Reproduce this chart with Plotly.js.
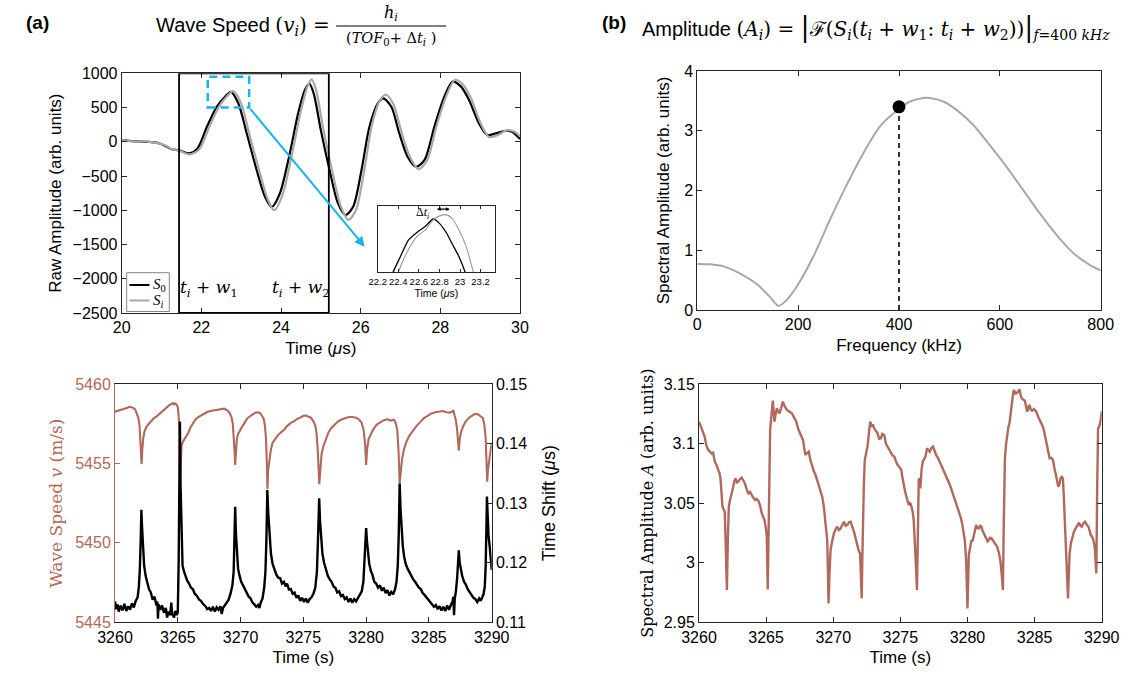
<!DOCTYPE html>
<html><head><meta charset="utf-8">
<script src="https://cdn.plot.ly/plotly-3.0.1.min.js"></script>
<style>html,body{margin:0;padding:0;background:#fff}#chart{width:1135px;height:674px}</style>
</head><body><div id="chart"></div>
<script>
// ---------- (a) top: raw waveforms ----------
const rawTimeS0 = [20.0,20.3,20.6,20.9,21.1,21.25,21.45,21.7,21.9,22.14,22.39,22.6,22.74,22.93,23.14,23.39,23.6,23.77,23.97,24.22,24.43,24.6,24.71,24.82,25.0,25.22,25.43,25.62,25.81,26.02,26.22,26.43,26.57,26.77,26.97,27.18,27.39,27.6,27.85,28.1,28.31,28.52,28.72,28.97,29.18,29.39,29.64,29.8,30.0];
const rawAmpS0  = [25,10,0,-15,-60,-110,-125,-170,-100,220,512,660,730,560,120,-415,-805,-950,-755,-170,415,756,850,707,170,-415,-900,-1070,-950,-415,220,560,634,512,122,-220,-365,-268,220,660,878,805,610,268,98,122,161,146,40];
const rawTimeSi = [20.0,20.3,20.6,20.9,21.1,21.25,21.45,21.7,21.95,22.2,22.45,22.65,22.8,23.0,23.2,23.45,23.66,23.83,24.03,24.28,24.49,24.66,24.77,24.88,25.06,25.28,25.5,25.69,25.88,26.09,26.28,26.48,26.63,26.82,27.02,27.22,27.45,27.66,27.9,28.15,28.37,28.58,28.78,29.02,29.22,29.43,29.68,29.85,30.0];
const rawAmpSi  = [30,5,5,-20,-55,-105,-130,-185,-110,220,520,670,740,560,120,-415,-830,-1000,-790,-170,430,800,910,760,190,-415,-940,-1140,-1000,-415,240,600,690,550,150,-200,-400,-280,220,670,905,830,620,260,70,95,170,150,80];
// inset (zoom of first peak)
const insetTimeS0 = [22.32,22.35,22.42,22.5,22.59,22.66,22.74,22.8,22.87,22.93,22.99,23.05,23.08];
const insetAmpS0  = [450,500,568,641,677,699,732,713,670,619,568,500,450];
const insetTimeSi = [22.37,22.40,22.48,22.58,22.66,22.74,22.82,22.88,22.93,22.99,23.06,23.13,23.16];
const insetAmpSi  = [450,500,583,655,684,728,749,749,731,684,612,500,450];

// ---------- (b) top: spectrum ----------
const freqKHz = [0,25,52,85,118,144,161,174,197,230,263,296,329,362,402,422,448,461,488,514,547,580,613,646,679,712,746,779,800];
const specAmp = [0.77,0.765,0.73,0.61,0.435,0.22,0.07,0.14,0.39,0.89,1.51,2.09,2.62,3.07,3.38,3.49,3.55,3.55,3.49,3.35,3.10,2.76,2.40,2.01,1.62,1.26,0.95,0.75,0.66];
const markFreq = [400];
const markAmp = [3.4];

// ---------- (a) bottom: wave speed & time shift ----------
const tSpeed = [3260.0,3260.2,3260.4,3260.6,3260.8,3261.0,3261.15,3261.3,3261.45,3261.6,3261.75,3261.85,3261.95,3262.02,3262.08,3262.12,3262.17,3262.25,3262.35,3262.5,3262.7,3262.9,3263.1,3263.3,3263.5,3263.7,3263.9,3264.1,3264.3,3264.5,3264.6,3264.7,3264.8,3264.9,3265.0,3265.07,3265.12,3265.17,3265.22,3265.3,3265.4,3265.55,3265.7,3265.85,3266.0,3266.2,3266.4,3266.6,3266.8,3267.0,3267.3,3267.6,3267.9,3268.2,3268.5,3268.7,3268.85,3269.0,3269.15,3269.28,3269.38,3269.46,3269.52,3269.57,3269.63,3269.7,3269.8,3269.95,3270.15,3270.35,3270.55,3270.8,3271.0,3271.2,3271.4,3271.55,3271.7,3271.85,3271.95,3272.03,3272.09,3272.14,3272.2,3272.3,3272.42,3272.55,3272.75,3272.95,3273.2,3273.45,3273.7,3274.0,3274.25,3274.5,3274.75,3275.0,3275.2,3275.4,3275.6,3275.8,3275.95,3276.05,3276.15,3276.27,3276.35,3276.45,3276.6,3276.8,3277.0,3277.2,3277.45,3277.7,3278.0,3278.3,3278.6,3278.9,3279.2,3279.45,3279.65,3279.8,3279.92,3280.0,3280.08,3280.2,3280.4,3280.6,3280.85,3281.1,3281.4,3281.7,3281.95,3282.2,3282.35,3282.48,3282.58,3282.67,3282.75,3282.85,3283.0,3283.2,3283.45,3283.7,3284.0,3284.3,3284.6,3284.9,3285.2,3285.5,3285.8,3286.1,3286.4,3286.65,3286.85,3286.95,3287.05,3287.15,3287.25,3287.32,3287.38,3287.45,3287.55,3287.7,3287.9,3288.15,3288.4,3288.65,3288.9,3289.1,3289.3,3289.42,3289.52,3289.6,3289.64,3289.7,3289.8,3289.9,3290.0];
const waveSpeed = [5458.26,5458.3,5458.36,5458.4,5458.42,5458.5,5458.57,5458.55,5458.5,5458.4,5458.15,5457.9,5457.4,5456.6,5455.4,5454.96,5455.8,5456.6,5457.0,5457.3,5457.5,5457.7,5457.85,5457.95,5458.1,5458.25,5458.35,5458.55,5458.65,5458.75,5458.8,5458.72,5458.78,5458.7,5458.55,5458.0,5456.8,5453.7,5455.2,5456.1,5456.35,5456.55,5456.7,5456.95,5457.25,5457.5,5457.75,5457.9,5458.0,5458.1,5458.22,5458.3,5458.33,5458.38,5458.4,5458.45,5458.38,5458.3,5458.15,5457.9,5457.5,5456.8,5455.8,5454.9,5455.8,5456.5,5456.85,5457.1,5457.35,5457.6,5457.85,5458.0,5458.1,5458.2,5458.22,5458.18,5458.0,5457.8,5457.3,5456.5,5455.0,5453.4,5454.6,5455.4,5455.9,5456.3,5456.55,5456.75,5456.95,5457.1,5457.35,5457.55,5457.65,5457.8,5457.88,5458.0,5458.02,5457.95,5457.88,5457.65,5457.4,5456.9,5455.8,5453.7,5454.9,5455.6,5456.1,5456.6,5456.95,5457.2,5457.4,5457.6,5457.75,5457.85,5457.92,5457.92,5457.88,5457.75,5457.55,5457.1,5456.2,5454.9,5455.9,5456.55,5456.9,5457.2,5457.45,5457.6,5457.72,5457.78,5457.7,5457.75,5457.55,5457.1,5455.8,5453.74,5454.7,5455.2,5455.85,5456.35,5456.75,5457.05,5457.35,5457.6,5457.85,5458.0,5458.15,5458.22,5458.25,5458.3,5458.22,5458.2,5458.25,5458.35,5458.0,5457.7,5457.1,5456.4,5455.8,5456.5,5456.95,5457.3,5457.6,5457.85,5458.0,5458.12,5458.1,5458.0,5457.85,5457.4,5456.6,5454.8,5453.85,5454.6,5455.3,5455.9,5456.3];

const tShiftTime = [3260.0,3260.1,3260.2,3260.3,3260.45,3260.6,3260.75,3260.9,3261.05,3261.2,3261.35,3261.5,3261.65,3261.8,3261.9,3261.97,3262.05,3262.1,3262.15,3262.22,3262.32,3262.44,3262.55,3262.7,3262.85,3263.0,3263.15,3263.3,3263.38,3263.42,3263.47,3263.6,3263.75,3263.9,3264.05,3264.15,3264.25,3264.4,3264.48,3264.55,3264.7,3264.8,3264.92,3265.0,3265.07,3265.12,3265.17,3265.22,3265.3,3265.38,3265.5,3265.6,3265.75,3265.9,3266.05,3266.2,3266.35,3266.5,3266.7,3266.85,3267.0,3267.2,3267.35,3267.5,3267.65,3267.8,3267.95,3268.1,3268.25,3268.4,3268.5,3268.6,3268.75,3268.9,3269.05,3269.2,3269.35,3269.45,3269.52,3269.57,3269.63,3269.7,3269.8,3269.9,3270.05,3270.2,3270.35,3270.5,3270.65,3270.8,3270.95,3271.1,3271.25,3271.4,3271.5,3271.6,3271.75,3271.88,3271.98,3272.06,3272.13,3272.2,3272.3,3272.42,3272.55,3272.7,3272.85,3273.0,3273.15,3273.3,3273.45,3273.6,3273.7,3273.85,3274.0,3274.15,3274.3,3274.45,3274.6,3274.75,3274.9,3275.05,3275.2,3275.35,3275.5,3275.65,3275.8,3275.95,3276.08,3276.16,3276.26,3276.33,3276.42,3276.52,3276.65,3276.8,3276.95,3277.1,3277.25,3277.4,3277.55,3277.7,3277.85,3278.0,3278.15,3278.3,3278.45,3278.6,3278.75,3278.9,3279.05,3279.2,3279.35,3279.5,3279.65,3279.78,3279.88,3279.95,3280.0,3280.07,3280.15,3280.25,3280.38,3280.5,3280.65,3280.8,3280.95,3281.1,3281.25,3281.4,3281.55,3281.7,3281.85,3282.0,3282.15,3282.3,3282.42,3282.52,3282.6,3282.67,3282.74,3282.82,3282.92,3283.03,3283.15,3283.3,3283.45,3283.6,3283.75,3283.9,3284.05,3284.2,3284.35,3284.5,3284.65,3284.8,3284.95,3285.1,3285.25,3285.4,3285.55,3285.7,3285.85,3286.0,3286.15,3286.3,3286.45,3286.6,3286.75,3286.88,3286.95,3287.0,3287.06,3287.15,3287.25,3287.32,3287.38,3287.45,3287.55,3287.65,3287.8,3287.95,3288.1,3288.25,3288.4,3288.55,3288.7,3288.85,3289.0,3289.12,3289.25,3289.35,3289.45,3289.52,3289.58,3289.62,3289.68,3289.75,3289.85,3289.92,3290.0];
const timeShift = [0.1135,0.1122,0.1130,0.1118,0.1128,0.1120,0.1131,0.1119,0.1127,0.1121,0.1132,0.1125,0.1136,0.1142,0.1160,0.1185,0.1240,0.1289,0.1262,0.1225,0.1195,0.1178,0.1170,0.1156,0.1150,0.1138,0.1143,0.1128,0.1135,0.1106,0.1130,0.1121,0.1128,0.1116,0.1124,0.1108,0.1118,0.1112,0.1133,0.1114,0.1108,0.1119,0.1112,0.1117,0.1200,0.1380,0.1437,0.1330,0.1230,0.1195,0.1185,0.1178,0.1170,0.1165,0.1158,0.1156,0.1148,0.1145,0.1138,0.1136,0.1131,0.1127,0.1122,0.1124,0.1119,0.1126,0.1118,0.1125,0.1121,0.1127,0.1114,0.1124,0.1128,0.1133,0.1138,0.1148,0.1162,0.1185,0.1240,0.1294,0.1250,0.1215,0.1190,0.1180,0.1168,0.1162,0.1155,0.1150,0.1143,0.1140,0.1133,0.1130,0.1126,0.1129,0.1124,0.1133,0.1140,0.1158,0.1185,0.1240,0.1322,0.1285,0.1245,0.1215,0.1198,0.1187,0.1180,0.1175,0.1174,0.1165,0.1168,0.1160,0.1165,0.1155,0.1156,0.1148,0.1150,0.1141,0.1145,0.1136,0.1141,0.1134,0.1140,0.1133,0.1139,0.1142,0.1148,0.1158,0.1185,0.1235,0.1308,0.1270,0.1235,0.1215,0.1200,0.1188,0.1178,0.1172,0.1168,0.1160,0.1158,0.1150,0.1152,0.1144,0.1146,0.1139,0.1142,0.1134,0.1140,0.1133,0.1139,0.1135,0.1141,0.1146,0.1152,0.1168,0.1205,0.1240,0.1258,0.1235,0.1215,0.1198,0.1186,0.1180,0.1168,0.1165,0.1158,0.1162,0.1153,0.1158,0.1149,0.1154,0.1145,0.1151,0.1147,0.1155,0.1168,0.1195,0.1250,0.1333,0.1290,0.1255,0.1228,0.1210,0.1198,0.1190,0.1183,0.1178,0.1172,0.1168,0.1163,0.1158,0.1156,0.1149,0.1146,0.1142,0.1139,0.1134,0.1131,0.1126,0.1129,0.1122,0.1127,0.1120,0.1126,0.1119,0.1128,0.1121,0.1129,0.1135,0.1143,0.1112,0.1140,0.1152,0.1175,0.1205,0.1221,0.1200,0.1188,0.1178,0.1168,0.1163,0.1155,0.1150,0.1146,0.1141,0.1139,0.1134,0.1140,0.1136,0.1142,0.1147,0.1160,0.1195,0.1260,0.1311,0.1280,0.1245,0.1225,0.1205,0.1188];

// ---------- (b) bottom: spectral amplitude at 400 kHz ----------
const tAmp = [3260.0,3260.18,3260.3,3260.42,3260.55,3260.68,3260.8,3260.92,3261.05,3261.18,3261.3,3261.42,3261.52,3261.6,3261.68,3261.75,3261.85,3261.92,3262.0,3262.08,3262.15,3262.22,3262.3,3262.38,3262.46,3262.55,3262.63,3262.72,3262.82,3262.92,3263.05,3263.18,3263.3,3263.42,3263.55,3263.68,3263.8,3263.92,3264.05,3264.18,3264.3,3264.42,3264.55,3264.68,3264.78,3264.88,3264.97,3265.05,3265.12,3265.2,3265.3,3265.4,3265.5,3265.56,3265.62,3265.7,3265.8,3265.9,3266.0,3266.12,3266.25,3266.4,3266.55,3266.72,3266.92,3267.08,3267.25,3267.4,3267.55,3267.65,3267.75,3267.85,3267.92,3268.05,3268.18,3268.3,3268.42,3268.55,3268.68,3268.8,3268.92,3269.05,3269.18,3269.3,3269.42,3269.5,3269.55,3269.6,3269.65,3269.72,3269.8,3269.92,3270.05,3270.18,3270.3,3270.42,3270.55,3270.68,3270.8,3270.92,3271.05,3271.18,3271.3,3271.42,3271.55,3271.68,3271.8,3271.9,3272.0,3272.06,3272.12,3272.17,3272.22,3272.28,3272.35,3272.45,3272.55,3272.65,3272.75,3272.88,3272.95,3273.05,3273.18,3273.3,3273.42,3273.55,3273.65,3273.8,3273.92,3274.05,3274.18,3274.3,3274.42,3274.55,3274.68,3274.8,3274.95,3275.07,3275.15,3275.25,3275.35,3275.42,3275.52,3275.62,3275.7,3275.77,3275.85,3275.92,3276.0,3276.07,3276.15,3276.24,3276.3,3276.37,3276.43,3276.49,3276.58,3276.67,3276.77,3276.87,3276.99,3277.09,3277.19,3277.3,3277.44,3277.55,3277.66,3277.8,3277.99,3278.1,3278.23,3278.4,3278.56,3278.7,3278.86,3279.0,3279.15,3279.28,3279.4,3279.5,3279.6,3279.7,3279.8,3279.9,3280.0,3280.1,3280.2,3280.3,3280.38,3280.47,3280.56,3280.65,3280.75,3280.85,3280.95,3281.04,3281.12,3281.22,3281.3,3281.39,3281.5,3281.59,3281.69,3281.79,3281.92,3282.04,3282.12,3282.21,3282.35,3282.46,3282.55,3282.64,3282.7,3282.79,3282.88,3282.96,3283.05,3283.13,3283.23,3283.33,3283.4,3283.46,3283.58,3283.71,3283.8,3283.88,3283.96,3284.03,3284.15,3284.28,3284.38,3284.45,3284.55,3284.63,3284.73,3284.83,3284.95,3285.12,3285.25,3285.37,3285.5,3285.62,3285.75,3285.87,3286.0,3286.12,3286.25,3286.37,3286.47,3286.57,3286.67,3286.77,3286.85,3286.94,3287.03,3287.11,3287.18,3287.24,3287.32,3287.39,3287.49,3287.55,3287.61,3287.7,3287.81,3287.93,3288.06,3288.18,3288.31,3288.41,3288.51,3288.63,3288.76,3288.88,3289.01,3289.1,3289.18,3289.28,3289.38,3289.45,3289.5,3289.55,3289.6,3289.66,3289.73,3289.8,3289.88,3289.95,3290.0];
const specAmpA = [3.1184,3.1128,3.1085,3.1058,3.0985,3.0946,3.0935,3.0918,3.0924,3.0848,3.082,3.0792,3.0755,3.0708,3.06,3.047,3.0445,3.0428,3.01,2.9771,3.02,3.047,3.052,3.0554,3.060,3.0638,3.0685,3.0708,3.0675,3.068,3.0702,3.0714,3.069,3.0666,3.0615,3.0582,3.0595,3.0568,3.0545,3.0526,3.0535,3.0521,3.048,3.0414,3.039,3.0358,3.030,3.0219,2.9776,3.0554,3.1114,3.124,3.136,3.128,3.1184,3.124,3.1296,3.127,3.1254,3.130,3.1352,3.131,3.1282,3.127,3.1254,3.122,3.1184,3.112,3.1072,3.1055,3.103,3.095,3.0904,3.092,3.0932,3.086,3.0806,3.077,3.0736,3.070,3.0652,3.060,3.0554,3.047,3.0358,3.026,3.0191,2.995,2.9659,2.99,3.0107,3.018,3.0246,3.028,3.0302,3.0275,3.0288,3.032,3.0344,3.031,3.0316,3.034,3.0344,3.030,3.026,3.020,3.0135,3.010,3.0079,2.99,2.9701,3.005,3.0414,3.065,3.0862,3.092,3.0974,3.108,3.1184,3.114,3.116,3.1128,3.110,3.1086,3.104,3.1044,3.108,3.1072,3.100,3.097,3.0946,3.0925,3.090,3.089,3.085,3.082,3.080,3.0778,3.072,3.0638,3.060,3.0568,3.052,3.0484,3.050,3.0493,3.046,3.0428,3.035,3.0219,3.000,2.9771,3.02,3.0694,3.071,3.0624,3.078,3.0848,3.087,3.089,3.096,3.094,3.0932,3.096,3.0974,3.094,3.0904,3.088,3.0834,3.080,3.0764,3.073,3.0694,3.065,3.0596,3.055,3.0498,3.046,3.0428,3.038,3.033,3.026,3.0191,3.0023,2.9617,3.0065,3.014,3.0191,3.018,3.0219,3.027,3.0316,3.029,3.0288,3.031,3.0302,3.027,3.0246,3.023,3.0219,3.018,3.0191,3.021,3.0205,3.018,3.0163,3.015,3.0135,3.008,3.0009,2.99,2.9771,3.03,3.0876,3.100,3.1086,3.114,3.117,3.128,3.1366,3.142,3.145,3.142,3.1427,3.145,3.1455,3.141,3.138,3.137,3.136,3.130,3.1268,3.131,3.1324,3.128,3.1276,3.129,3.1268,3.123,3.1198,3.117,3.1142,3.108,3.1016,3.095,3.0876,3.088,3.0862,3.080,3.0736,3.068,3.0638,3.066,3.0708,3.072,3.0708,3.055,3.0358,3.012,2.9939,2.9701,2.990,3.0079,3.016,3.0219,3.026,3.0288,3.031,3.0336,3.031,3.0302,3.033,3.0344,3.032,3.0302,3.027,3.0232,3.022,3.0191,3.015,3.0107,3.000,2.9911,3.06,3.1128,3.114,3.117,3.122,3.127];

// ---------- styling ----------
const W = 1135, H = 674;
const px = v => v / W;           // pixel -> paper x
const py = v => 1 - v / H;       // pixel -> paper y
const BROWN = '#b1695b';
const GRAY = '#a8a8a8';
const CYAN = '#19b4ee';
const AX = '#262626';
const SANS = 'Liberation Sans, Arial, Helvetica, sans-serif';
const SERIF = 'Liberation Serif, Times New Roman, serif';
const MSERIF = 'DejaVu Serif, Liberation Serif, serif';

function axis(extra) {
  return Object.assign({
    showline: true, linecolor: AX, linewidth: 1, mirror: 'ticks',
    ticks: 'inside', ticklen: 5, tickcolor: AX, tickwidth: 1,
    showgrid: false, zeroline: false,
    tickfont: {family: SANS, size: 16, color: '#000'},
    title: {font: {family: SANS, size: 17, color: '#000'}}
  }, extra);
}

const traces = [
  {x: rawTimeS0, y: rawAmpS0, xaxis: 'x', yaxis: 'y', mode: 'lines', line: {color: '#000', width: 2.2, shape: 'spline', smoothing: 0.8}, name: 'S0'},
  {x: rawTimeSi, y: rawAmpSi, xaxis: 'x', yaxis: 'y', mode: 'lines', line: {color: GRAY, width: 2.2, shape: 'spline', smoothing: 0.8}, name: 'Si'},
  {x: insetTimeS0, y: insetAmpS0, xaxis: 'x5', yaxis: 'y6', mode: 'lines', line: {color: '#000', width: 1.3, shape: 'spline', smoothing: 0.6}},
  {x: insetTimeSi, y: insetAmpSi, xaxis: 'x5', yaxis: 'y6', mode: 'lines', line: {color: '#999', width: 1.1, shape: 'spline', smoothing: 0.6}},
  {x: freqKHz, y: specAmp, xaxis: 'x2', yaxis: 'y2', mode: 'lines', line: {color: GRAY, width: 2, shape: 'spline', smoothing: 0.7}},
  {x: [markFreq[0], markFreq[0]], y: [0, markAmp[0]], xaxis: 'x2', yaxis: 'y2', mode: 'lines', line: {color: '#000', width: 1.6, dash: '5px,4px'}},
  {x: markFreq, y: markAmp, xaxis: 'x2', yaxis: 'y2', mode: 'markers', marker: {color: '#000', size: 13}},
  {x: tSpeed, y: waveSpeed, xaxis: 'x3', yaxis: 'y3', mode: 'lines', line: {color: BROWN, width: 2.1}},
  {x: tShiftTime, y: timeShift, xaxis: 'x3', yaxis: 'y4', mode: 'lines', line: {color: '#000', width: 2.4}},
  {x: tAmp, y: specAmpA, xaxis: 'x4', yaxis: 'y5', mode: 'lines', line: {color: BROWN, width: 2.4}}
];

const layout = {
  width: W, height: H, showlegend: false,
  margin: {l: 0, r: 0, t: 0, b: 0},
  paper_bgcolor: '#fff', plot_bgcolor: 'rgba(0,0,0,0)',
  font: {family: SANS, color: '#000'},
  // top-left
  xaxis: axis({domain: [px(121.7), px(520)], anchor: 'y', range: [20, 30], dtick: 2, tick0: 20,
    title: {text: 'Time (<i>μ</i>s)', font: {family: SANS, size: 17}, standoff: 6}}),
  yaxis: axis({domain: [py(313), py(73.3)], anchor: 'x', range: [-2500, 1000], dtick: 500, tick0: 0,
    title: {text: 'Raw Amplitude (arb. units)', font: {family: SANS, size: 17}, standoff: 6}}),
  // top-right
  xaxis2: axis({domain: [px(697.3), px(1100.7)], anchor: 'y2', range: [0, 800], dtick: 200,
    title: {text: 'Frequency (kHz)', font: {family: SANS, size: 17}, standoff: 6}}),
  yaxis2: axis({domain: [py(310), py(71)], anchor: 'x2', range: [0, 4], dtick: 1,
    title: {text: 'Spectral Amplitude (arb. units)', font: {family: SANS, size: 17}, standoff: 10}}),
  // bottom-left
  xaxis3: axis({domain: [px(115), px(491.7)], anchor: 'y3', range: [3260, 3290], dtick: 5,
    title: {text: 'Time (s)', font: {family: SANS, size: 17}, standoff: 6}}),
  yaxis3: axis({domain: [py(622.3), py(384)], anchor: 'x3', range: [5445, 5460], dtick: 5, mirror: false,
    linecolor: BROWN, tickcolor: BROWN, tickfont: {family: SANS, size: 16, color: BROWN},
    title: {text: 'Wave Speed <i>v</i> (m/s)', font: {family: MSERIF, size: 17, color: BROWN}, standoff: 8}}),
  yaxis4: axis({domain: [py(622.3), py(384)], anchor: 'x3', overlaying: 'y3', side: 'right', range: [0.11, 0.15], dtick: 0.01, mirror: false,
    tickformat: '.2f',
    title: {text: 'Time Shift (<i>μ</i>s)', font: {family: SANS, size: 18}, standoff: 16}}),
  // bottom-right
  xaxis4: axis({domain: [px(699), px(1101.7)], anchor: 'y5', range: [3260, 3290], dtick: 5,
    title: {text: 'Time (s)', font: {family: SANS, size: 17}, standoff: 6}}),
  yaxis5: axis({domain: [py(622.3), py(384)], anchor: 'x4', range: [2.95, 3.15], dtick: 0.05,
    title: {text: 'Spectral Amplitude <i>A</i> (arb. units)', font: {family: MSERIF, size: 16}, standoff: 6}}),
  // inset
  xaxis5: axis({domain: [px(377.7), px(495)], anchor: 'y6', range: [22.2, 23.34],
    tickvals: [22.2, 22.4, 22.6, 22.8, 23.0, 23.2], ticktext: ['22.2', '22.4', '22.6', '22.8', '23', '23.2'],
    ticklen: 3, tickfont: {family: SANS, size: 9.5, color: '#000'},
    title: {text: 'Time (<i>μ</i>s)', font: {family: SANS, size: 10.5}, standoff: 2}}),
  yaxis6: axis({domain: [py(272.3), py(205.7)], anchor: 'x5', range: [500, 790], showticklabels: false, ticks: ''}),
  shapes: [
    // window rectangle on raw waveforms
    {type: 'rect', xref: 'x', yref: 'y', x0: 21.44, x1: 25.2, y0: -2500, y1: 1000, line: {color: '#000', width: 1.8}},
    // dashed zoom box
    {type: 'rect', xref: 'x', yref: 'y', x0: 22.16, x1: 23.2, y0: 500, y1: 950, line: {color: CYAN, width: 2.5, dash: '8px,5px'}},
    // legend box
    {type: 'rect', xref: 'paper', yref: 'paper', x0: px(126.7), x1: px(169.3), y0: py(311.5), y1: py(272.7), line: {color: '#888', width: 1}, fillcolor: '#fff'},
    {type: 'line', xref: 'paper', yref: 'paper', x0: px(129.5), x1: px(149.5), y0: py(285), y1: py(285), line: {color: '#000', width: 2}},
    {type: 'line', xref: 'paper', yref: 'paper', x0: px(129.5), x1: px(149.5), y0: py(300.5), y1: py(300.5), line: {color: GRAY, width: 2}},
    // title fraction bar
    {type: 'line', xref: 'paper', yref: 'paper', x0: px(336), x1: px(446), y0: py(26), y1: py(26), line: {color: '#000', width: 1.2}}
  ],
  annotations: [
    {xref: 'paper', yref: 'paper', x: px(24), y: py(22), yanchor: 'middle', text: '<b>(a)</b>', showarrow: false, font: {family: SANS, size: 19}},
    {xref: 'paper', yref: 'paper', x: px(614), y: py(22), yanchor: 'middle', text: '<b>(b)</b>', showarrow: false, font: {family: SANS, size: 19}},
    {xref: 'paper', yref: 'paper', x: px(332), y: py(26), xanchor: 'right', yanchor: 'middle', showarrow: false,
      text: 'Wave Speed <span style="font-family:DejaVu Serif">(<i>v<sub>i</sub></i>) =</span>', font: {family: SANS, size: 20}},
    {xref: 'paper', yref: 'paper', x: px(391), y: py(13), yanchor: 'middle', showarrow: false, text: '<i>h<sub>i</sub></i>', font: {family: MSERIF, size: 16}},
    {xref: 'paper', yref: 'paper', x: px(391), y: py(39), yanchor: 'middle', showarrow: false, text: '(<i>TOF</i><sub>0</sub>+ Δ<i>t<sub>i</sub></i> )', font: {family: MSERIF, size: 14.5}},
    {xref: 'paper', yref: 'paper', x: px(640), y: py(27), xanchor: 'left', yanchor: 'middle', showarrow: false,
      text: 'Amplitude <span style="font-family:DejaVu Serif">(<i>A<sub>i</sub></i>) = <span style="font-size:27px">|</span>ℱ(<i>S<sub>i</sub></i>(<i>t<sub>i</sub></i> + <i>w</i><sub>1</sub>: <i>t<sub>i</sub></i> + <i>w</i><sub>2</sub>))<span style="font-size:27px">|</span><sub><i>f</i>=400 <i>kHz</i></sub></span>',
      font: {family: SANS, size: 20}},
    // window labels
    {xref: 'x', yref: 'y', x: 22.2, y: -2140, yanchor: 'middle', showarrow: false, text: '<i>t<sub>i</sub></i> + <i>w</i><sub>1</sub>', font: {family: MSERIF, size: 17}},
    {xref: 'x', yref: 'y', x: 24.5, y: -2140, yanchor: 'middle', showarrow: false, text: '<i>t<sub>i</sub></i> + <i>w</i><sub>2</sub>', font: {family: MSERIF, size: 17}},
    // legend labels
    {xref: 'paper', yref: 'paper', x: px(151), y: py(285), xanchor: 'left', yanchor: 'middle', showarrow: false, text: '<i>S</i><sub>0</sub>', font: {family: SERIF, size: 15}},
    {xref: 'paper', yref: 'paper', x: px(151), y: py(300.5), xanchor: 'left', yanchor: 'middle', showarrow: false, text: '<i>S<sub>i</sub></i>', font: {family: SERIF, size: 15}},
    // arrow from zoom box to inset
    {xref: 'x', yref: 'y', axref: 'x', ayref: 'y', x: 26.1, y: -1532, ax: 23.2, ay: 500, text: '', showarrow: true,
      arrowhead: 2, arrowsize: 1, arrowwidth: 2, arrowcolor: CYAN},
    // inset delta-t label & double arrow
    {xref: 'x5', yref: 'y6', x: 22.64, y: 757, yanchor: 'middle', showarrow: false, text: 'Δ<i>t<sub>i</sub></i>', font: {family: SERIF, size: 12}},
    {xref: 'x5', yref: 'y6', axref: 'x5', ayref: 'y6', x: 22.9, y: 775, ax: 22.76, ay: 775, text: '', showarrow: true,
      arrowhead: 2, arrowside: 'end+start', arrowsize: 0.7, arrowwidth: 1.1, arrowcolor: '#000', standoff: 0, startstandoff: 0}
  ]
};

Plotly.newPlot('chart', traces, layout, {staticPlot: true, displayModeBar: false});
</script>
</body></html>
